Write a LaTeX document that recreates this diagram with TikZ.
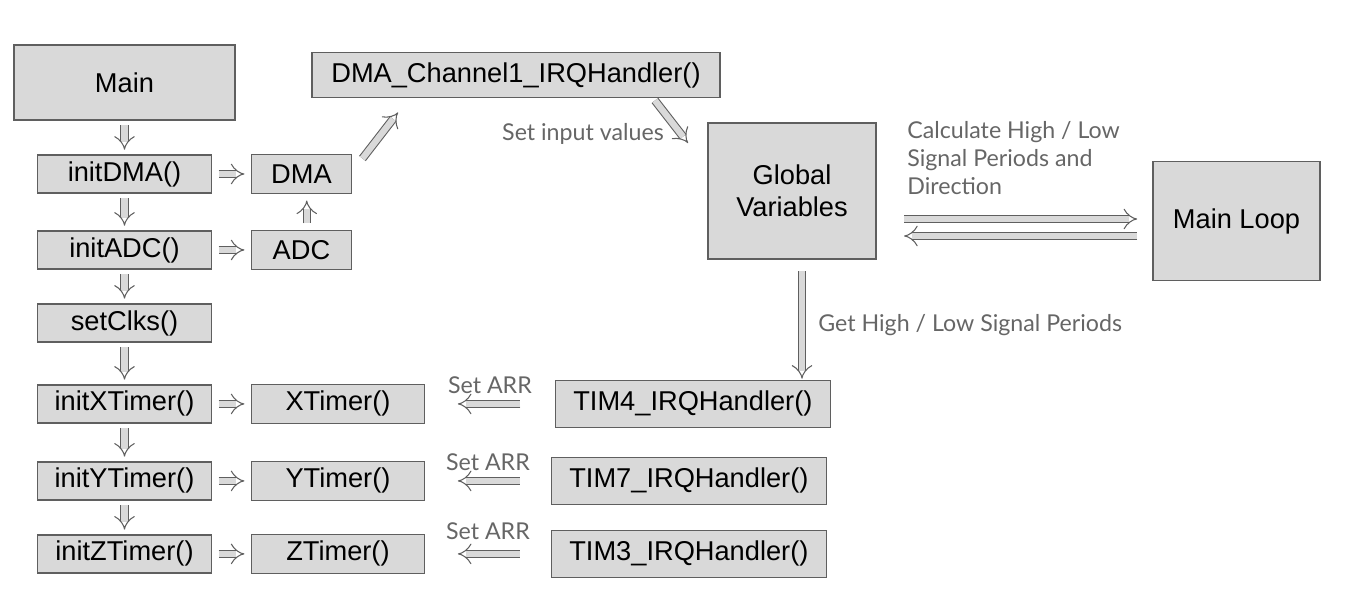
\documentclass[tikz,border=0pt]{standalone}
\usepackage{fontspec}
\setmainfont{Liberation Sans}
\newfontfamily\notefont{Lato}
\usetikzlibrary{positioning,arrows.meta}
\definecolor{boxfill}{HTML}{D9D9D9}
\definecolor{boxline}{HTML}{5F5F5F}
\definecolor{notegray}{HTML}{666666}

\begin{document}
\begin{tikzpicture}[x=0.02cm, y=-0.02cm,
	box/.style={draw=boxline, fill=boxfill, line width=0.8pt, inner sep=0pt, outer sep=0pt,
		font=\fontsize{15.5}{18.5}\selectfont, text=black},
	initbox/.style={box, minimum width=3.48cm, minimum height=0.76cm},
	periph/.style={box, minimum height=0.78cm},
	handler/.style={box, minimum width=5.5cm, minimum height=0.94cm},
	flow/.style={draw=boxline, double=boxfill, double distance=3.6pt, line width=0.6pt,
		-{Implies}, shorten <=3pt, shorten >=3pt},
	note/.style={font=\notefont\fontsize{13.2}{16}\selectfont, text=notegray, inner sep=0pt}]
	\useasboundingbox (0,0) rectangle (1363,595);

	\node[box, minimum width=4.42cm, minimum height=1.5cm] (main) at (124.5,82.5) {Main};
	\node[initbox, below=0.7cm of main] (initdma) {initDMA()};
	\node[initbox, below=0.76cm of initdma] (initadc) {initADC()};
	\node[initbox, below=0.7cm of initadc] (setclks) {setClks()};
	\node[initbox, below=0.86cm of setclks] (initx) {initXTimer()};
	\node[initbox, below=0.78cm of initx] (inity) {initYTimer()};
	\node[initbox, below=0.7cm of inity] (initz) {initZTimer()};

	\node[periph, minimum width=2cm, right=0.8cm of initdma] (dma) {DMA};
	\node[periph, minimum width=2cm, right=0.8cm of initadc] (adc) {ADC};
	\node[periph, minimum width=3.46cm, right=0.8cm of initx] (xtimer) {XTimer()};
	\node[periph, minimum width=3.46cm, right=0.8cm of inity] (ytimer) {YTimer()};
	\node[periph, minimum width=3.46cm, right=0.8cm of initz] (ztimer) {ZTimer()};

	\node[box, minimum width=8.16cm, minimum height=0.9cm] (dmairq) at (516,75) {DMA\_Channel1\_IRQHandler()};
	\node[box, minimum width=3.36cm, minimum height=2.72cm, align=center] (global) at (792,191) {Global\\Variables};
	\node[box, minimum width=3.34cm, minimum height=2.38cm] (mainloop) at (1236.5,221) {Main Loop};

	\node[handler, right=2.62cm of xtimer] (tim4) {TIM4\_IRQHandler()};
	\node[handler, right=2.54cm of ytimer] (tim7) {TIM7\_IRQHandler()};
	\node[handler, right=2.54cm of ztimer] (tim3) {TIM3\_IRQHandler()};

	\draw[flow] (main) -- (initdma);
	\draw[flow] (initdma) -- (initadc);
	\draw[flow] (initadc) -- (setclks);
	\draw[flow] (setclks) -- (initx);
	\draw[flow] (initx) -- (inity);
	\draw[flow] (inity) -- (initz);
	\draw[flow, shorten <=4pt, shorten >=4pt] (initdma) -- (dma);
	\draw[flow, shorten <=4pt, shorten >=4pt] (initadc) -- (adc);
	\draw[flow, shorten <=4pt, shorten >=4pt] (initx) -- (xtimer);
	\draw[flow, shorten <=4pt, shorten >=4pt] (inity) -- (ytimer);
	\draw[flow, shorten <=4pt, shorten >=4pt] (initz) -- (ztimer);
	\draw[flow, shorten <=4pt, shorten >=4pt] ([xshift=3pt]adc.north) -- ([xshift=3pt]dma.south);

	\draw[flow, shorten <=0pt, shorten >=0pt] ([shift={(11,4)}]dma.north east) -- ([shift={(86,15)}]dmairq.south west);
	\draw[flow, shorten <=0pt, shorten >=0pt] ([shift={(-65,3)}]dmairq.south east) -- ([shift={(-20,20)}]global.north west);
	\node[note] (setinput) at (583,134) {Set input values};

	\draw[flow, shorten <=16pt, shorten >=9pt] ([yshift=-0.56cm]global.east) -- ([yshift=-0.56cm]global.east -| mainloop.west);
	\draw[flow, shorten <=9pt, shorten >=16pt] ([yshift=-0.9cm]global.east -| mainloop.west) -- ([yshift=-0.9cm]global.east);
	\node[note, anchor=north west, align=left] (calc) at (907,121) {Calculate High / Low\\Signal Periods and\\Direction};

	\draw[flow, shorten <=7pt, shorten >=1pt] ([xshift=0.2cm]global.south) -- ([xshift=0.2cm]global.south |- tim4.north);
	\node[note, anchor=west] (gethigh) at (818,325) {Get High / Low Signal Periods};

	\draw[flow, shorten <=20pt, shorten >=19pt] (tim4) -- (xtimer) node[note, midway, above=5.5pt] {Set ARR};
	\draw[flow, shorten <=18pt, shorten >=19pt] (tim7) -- (ytimer) node[note, midway, above=5.5pt] {Set ARR};
	\draw[flow, shorten <=18pt, shorten >=19pt] (tim3) -- (ztimer) node[note, midway, above=8pt] {Set ARR};
\end{tikzpicture}
\end{document}
